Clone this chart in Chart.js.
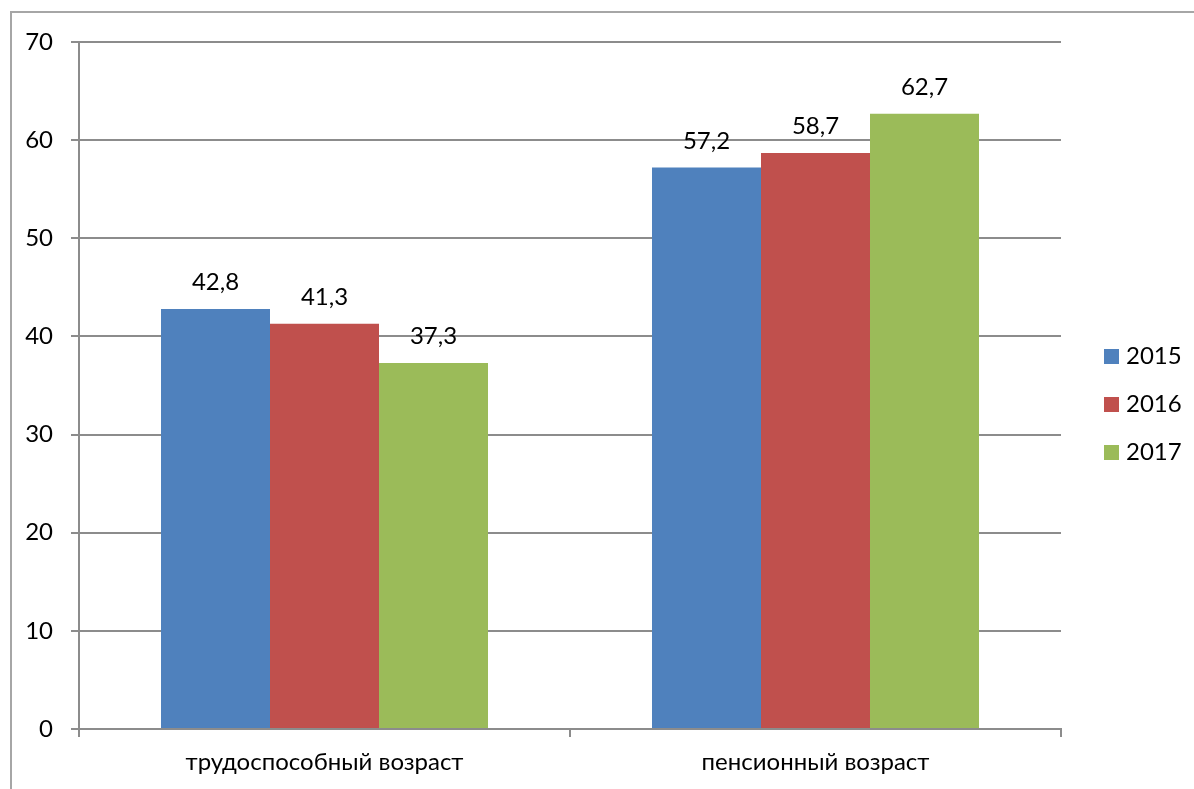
<!DOCTYPE html>
<html>
<head>
<meta charset="utf-8">
<script src="https://cdn.jsdelivr.net/npm/chart.js@4.4.1/dist/chart.umd.min.js"></script>
<style>
  html, body { margin: 0; padding: 0; background: #fff; overflow: hidden; }
  #wrap { position: relative; width: 1194px; height: 789px; }
  #frame { position: absolute; left: 10px; top: 11px; width: 1400px; height: 1000px; border: 2px solid #a6a6a6; box-sizing: border-box; }
  canvas { position: absolute; left: 0; top: 0; }
</style>
</head>
<body>
<div id="wrap">
  <div id="frame"></div>
  <canvas id="chart" width="1194" height="789"></canvas>
</div>
<script>
// ---- data ----
const categories = ["трудоспособный возраст", "пенсионный возраст"];
const seriesNames = ["2015", "2016", "2017"];
const values2015 = [42.8, 57.2];
const values2016 = [41.3, 58.7];
const values2017 = [37.3, 62.7];
const yTickMin = 0;
const yTickMax = 70;
const yTickStep = 10;

const colors = ["#4F81BD", "#C0504D", "#9BBB59"];
const FONT_FAMILY = "Lato, 'Noto Sans', sans-serif";
const FONT_SIZE = 24;
const gridColor = "#8c8c8c";

// value labels above each bar
const barLabels = {
  id: "barLabels",
  afterDatasetsDraw(chart) {
    const ctx = chart.ctx;
    ctx.save();
    ctx.font = FONT_SIZE + "px " + FONT_FAMILY;
    ctx.fillStyle = "#000";
    ctx.textAlign = "center";
    ctx.textBaseline = "alphabetic";
    chart.data.datasets.forEach((ds, i) => {
      chart.getDatasetMeta(i).data.forEach((bar, j) => {
        ctx.fillText(ds.data[j].toFixed(1).replace(".", ","), bar.x, bar.y - 19);
      });
    });
    ctx.restore();
  },
};

// legend on the right, drawn by hand
const sideLegend = {
  id: "sideLegend",
  afterDraw(chart) {
    const ctx = chart.ctx;
    ctx.save();
    ctx.font = FONT_SIZE + "px " + FONT_FAMILY;
    ctx.textAlign = "left";
    ctx.textBaseline = "alphabetic";
    chart.data.datasets.forEach((ds, i) => {
      const y = 349 + i * 48;
      ctx.fillStyle = ds.backgroundColor;
      ctx.fillRect(1104, y, 15, 15);
      ctx.fillStyle = "#000";
      ctx.fillText(ds.label, 1126, y + 15);
    });
    ctx.restore();
  },
};

new Chart(document.getElementById("chart"), {
  type: "bar",
  data: {
    labels: categories,
    datasets: [
      { label: seriesNames[0], data: values2015, backgroundColor: colors[0] },
      { label: seriesNames[1], data: values2016, backgroundColor: colors[1] },
      { label: seriesNames[2], data: values2017, backgroundColor: colors[2] },
    ].map((d) => ({ ...d, barPercentage: 1, categoryPercentage: 0.666, borderWidth: 0 })),
  },
  options: {
    responsive: false,
    animation: false,
    devicePixelRatio: 1,
    layout: { padding: { left: 0, top: 42, right: 133, bottom: 0 } },
    plugins: {
      legend: { display: false },
      tooltip: { enabled: false },
    },
    scales: {
      x: {
        offset: true,
        grid: { offset: true, drawOnChartArea: false, drawTicks: true, tickLength: 8, color: gridColor, lineWidth: 2 },
        border: { color: gridColor, width: 2 },
        ticks: { color: "#000", padding: 11, font: { family: FONT_FAMILY, size: FONT_SIZE } },
        afterFit: (s) => { s.height = 60; },
      },
      y: {
        min: yTickMin,
        max: yTickMax,
        ticks: { stepSize: yTickStep, color: "#000", padding: 18, font: { family: FONT_FAMILY, size: FONT_SIZE } },
        grid: { color: gridColor, lineWidth: 2, tickLength: 8 },
        border: { color: gridColor, width: 2 },
        afterFit: (s) => { s.width = 79; },
      },
    },
  },
  plugins: [barLabels, sideLegend],
});
</script>
</body>
</html>
